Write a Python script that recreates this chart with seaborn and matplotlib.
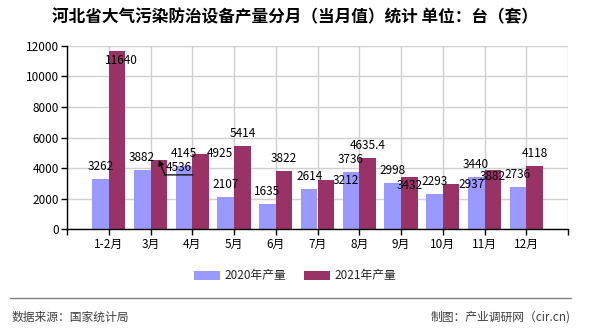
import matplotlib
matplotlib.use("Agg")
import matplotlib.pyplot as plt
import matplotlib.transforms as mtransforms
from matplotlib.lines import Line2D
from matplotlib.patches import Patch
import pandas as pd
import seaborn as sns

# Monthly output, units: 台（套）
months = ["1-2月", "3月", "4月", "5月", "6月", "7月", "8月", "9月", "10月", "11月", "12月"]
output_2020 = [3262, 3882, 4145, 2107, 1635, 2614, 3736, 2998, 2293, 3440, 2736]
output_2021 = [11640, 4536, 4925, 5414, 3822, 3212, 4635.4, 3432, 2937, 3882, 4118]
series_names = ["2020年产量", "2021年产量"]
y_ticks = [0, 2000, 4000, 6000, 8000, 10000, 12000]

title = "河北省大气污染防治设备产量分月（当月值）统计 单位：台（套）"
source_text = "数据来源：国家统计局"
credit_text = "制图：产业调研网（cir.cn)"

colors = ["#9999FF", "#993366"]

df = pd.DataFrame({
    "month": months * 2,
    "series": [series_names[0]] * len(months) + [series_names[1]] * len(months),
    "value": output_2020 + output_2021,
})

sns.set_theme(style="white")
plt.rcParams["font.family"] = ["Noto Sans CJK SC", "DejaVu Sans"]

fig = plt.figure(figsize=(5.9, 3.3), dpi=100)
ax = fig.add_axes([67 / 590, 1 - 229.3 / 330, (568 - 67) / 590, (229.3 - 45.7) / 330])

sns.barplot(data=df, x="month", y="value", hue="series", order=months,
            hue_order=series_names, palette=colors, saturation=1,
            width=0.8, ax=ax, legend=False, edgecolor="none")

ax.set_xlim(-1, 11)
ax.set_ylim(0, 12000)
ax.set_yticks(y_ticks)
ax.set_yticklabels([str(v) for v in y_ticks], fontsize=8.5)
ax.set_xticks(range(-1, 12))
ax.set_xticklabels([""] + months + [""], fontsize=8.5)
ax.set_xlabel("")
ax.set_ylabel("")

ax.grid(True, axis="both", color="#D0D0D0", linewidth=1)
ax.set_axisbelow(True)
for side in ("top", "right"):
    ax.spines[side].set_visible(False)
for side in ("left", "bottom"):
    ax.spines[side].set_color("black")
    ax.spines[side].set_linewidth(1)
ax.tick_params(axis="both", which="both", direction="out", length=4,
               width=1, color="black", pad=2, labelcolor="black",
               bottom=True, left=True)

# Label placement in pixels relative to each bar's top centre (dx, dy up)
default_offset = (0, 12.5)
offsets_2021 = {0: (4, -9), 1: (20, -7.7), 2: (19, 0.7), 5: (20, 0),
                7: (0, -8.5), 8: (20, 0), 9: (0, -7)}
leader_index = 1  # the 2021 label that is pulled aside with a leader line

for ci, (container, values) in enumerate(zip(ax.containers, [output_2020, output_2021])):
    for i, (bar, val) in enumerate(zip(container, values)):
        cx = bar.get_x() + bar.get_width() / 2
        top = bar.get_height()
        dx, dy = default_offset
        if ci == 1 and i in offsets_2021:
            dx, dy = offsets_2021[i]
        ax.annotate(f"{val:g}", xy=(cx, top), xytext=(dx, dy),
                    textcoords="offset pixels", ha="center", va="center",
                    fontsize=8.5, color="black")
        if ci == 1 and i == leader_index:
            start = mtransforms.offset_copy(ax.transData, fig=fig, x=6, y=-15, units="dots")
            end = mtransforms.offset_copy(ax.transData, fig=fig, x=34, y=-15, units="dots")
            # arrow back to the bar top
            ax.annotate("", xy=(cx, top), xycoords="data",
                        xytext=(cx, top), textcoords=start,
                        arrowprops=dict(arrowstyle="-|>", color="black", lw=0.9,
                                        mutation_scale=8, shrinkA=0, shrinkB=0))
            # underline beneath the label
            ax.annotate("", xy=(cx, top), xycoords=end,
                        xytext=(cx, top), textcoords=start,
                        arrowprops=dict(arrowstyle="-", color="black", lw=0.9,
                                        shrinkA=0, shrinkB=0))

# Title
fig.text(0.5, 1 - 17 / 330, title, ha="center", va="center", fontsize=12,
         fontweight="bold", color="black")

# Legend
handles = [Patch(facecolor=c, edgecolor="none") for c in colors]
fig.legend(handles, series_names, loc="center", bbox_to_anchor=(0.5, 1 - 276 / 330),
           ncol=2, frameon=False, fontsize=8.5, handlelength=2.2, handleheight=0.9,
           columnspacing=1.5, handletextpad=0.4)

# Footer
fig.add_artist(Line2D([10 / 590, 571 / 590], [1 - 298 / 330, 1 - 298 / 330],
                      color="#808080", lw=1, transform=fig.transFigure))
fig.text(12 / 590, 1 - 317 / 330, source_text, ha="left", va="center",
         fontsize=8.5, color="#404040")
fig.text(571 / 590, 1 - 317 / 330, credit_text, ha="right", va="center",
         fontsize=8.5, color="#404040")

fig.savefig("out.png", dpi=100)
